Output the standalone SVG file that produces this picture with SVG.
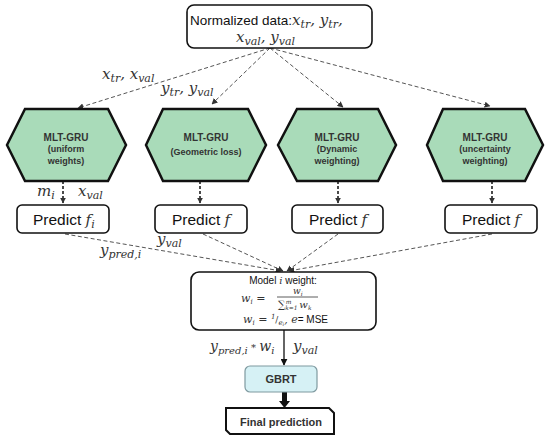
<svg xmlns="http://www.w3.org/2000/svg" width="550" height="443" viewBox="0 0 550 443">
<defs>
<marker id="ah" viewBox="0 0 10 10" refX="9" refY="5" markerWidth="6" markerHeight="6" orient="auto" markerUnits="userSpaceOnUse"><path d="M0,0 L10,5 L0,10 z" fill="#333"/></marker>
<marker id="ah2" viewBox="0 0 10 10" refX="9" refY="5" markerWidth="7" markerHeight="7" orient="auto" markerUnits="userSpaceOnUse"><path d="M0,0 L10,5 L0,10 z" fill="#111"/></marker>
<style>
.box{fill:#fff;stroke:#111;stroke-width:1.6}
.hex{fill:#a9dbb9;stroke:#111;stroke-width:2.5;stroke-linejoin:miter}
.thin{fill:none;stroke:#555;stroke-width:1;stroke-dasharray:4 2.5}
.mid{fill:none;stroke:#111;stroke-width:1.5;stroke-dasharray:3 2}
.sans{font-family:"Liberation Sans",Arial,sans-serif;fill:#111}
.hb{font-family:"Liberation Sans",Arial,sans-serif;font-weight:bold;fill:#333;text-anchor:middle}
.m{font-family:"DejaVu Serif","Liberation Serif",serif;font-style:italic;fill:#333}
.sub{font-size:11px}
</style>
</defs>
<rect width="550" height="443" fill="#fff"/>

<g id="connectors">
<path class="thin" d="M270,48 L78,108" marker-end="url(#ah)"/>
<path class="thin" d="M270,48 L212,104" marker-end="url(#ah)"/>
<path class="thin" d="M270,48 L343,107" marker-end="url(#ah)"/>
<path class="thin" d="M270,48 L490,106" marker-end="url(#ah)"/>
<path class="mid" d="M63,181 L63,203" marker-end="url(#ah)"/>
<path class="mid" d="M200,181 L200,203" marker-end="url(#ah)"/>
<path class="mid" d="M338,181 L338,203" marker-end="url(#ah)"/>
<path class="mid" d="M492,181 L492,203" marker-end="url(#ah)"/>
<path class="thin" d="M65,234 L281,271" marker-end="url(#ah)"/>
<path class="thin" d="M203,234 L283,271" marker-end="url(#ah)"/>
<path class="thin" d="M338,234 L287,271" marker-end="url(#ah)"/>
<path class="thin" d="M492,234 L289,271" marker-end="url(#ah)"/>
<path d="M284,330 L284,365" stroke="#111" stroke-width="1.3" fill="none" marker-end="url(#ah2)"/>
<path d="M282,392 L287,392 L287,401 L290,401 L284.5,408 L279,401 L282,401 z" fill="#111"/>
<text class="m" x="102" y="79" font-size="15">x<tspan class="sub" dy="3">tr</tspan><tspan dy="-3">, x</tspan><tspan class="sub" dy="3">val</tspan></text>
<text class="m" x="161" y="93" font-size="15">y<tspan class="sub" dy="3">tr</tspan><tspan dy="-3">, y</tspan><tspan class="sub" dy="3">val</tspan></text>
<text class="m" x="37" y="196" font-size="15">m<tspan class="sub" dy="3">i</tspan></text>
<text class="m" x="78" y="196" font-size="15">x<tspan class="sub" dy="3">val</tspan></text>
<text class="m" x="157" y="244" font-size="15">y<tspan class="sub" dy="3">val</tspan></text>
<text class="m" x="100" y="255" font-size="15">y<tspan class="sub" dy="3">pred,i</tspan></text>
<text class="m" x="210" y="351" font-size="14">y<tspan font-size="10" dy="3">pred,i</tspan><tspan dy="-3" font-size="10" style="font-style:normal"> * </tspan><tspan>w</tspan><tspan font-size="10" dy="3">i</tspan></text>
<text class="m" x="293" y="351" font-size="15">y<tspan class="sub" dy="3">val</tspan></text>
</g>

<g id="top">
<rect class="box" x="187" y="5" width="185" height="43" rx="7" stroke-width="1.8"/>
<text class="sans" x="190" y="25" font-size="13.5">Normalized data:<tspan class="m" font-size="15">x</tspan><tspan class="m sub" dy="3">tr</tspan><tspan class="m" font-size="15" dy="-3">, y</tspan><tspan class="m sub" dy="3">tr</tspan><tspan class="m" font-size="15" dy="-3">,</tspan></text>
<text class="m" x="236" y="42" font-size="15">x<tspan class="sub" dy="3">val</tspan><tspan dy="-3">, y</tspan><tspan class="sub" dy="3">val</tspan></text>
</g>

<g id="hex1">
<polygon class="hex" points="7,145 25,109 108,109 126,145 108,181 25,181"/>
<text class="hb" x="66" y="141" font-size="10">MLT-GRU</text>
<text class="hb" x="66" y="152" font-size="9">(uniform</text>
<text class="hb" x="66" y="164" font-size="9">weights)</text>
</g>
<g id="hex2">
<polygon class="hex" points="146,145 163,109 248,109 266,145 248,181 163,181"/>
<text class="hb" x="206" y="141" font-size="10">MLT-GRU</text>
<text class="hb" x="206" y="155" font-size="9">(Geometric loss)</text>
</g>
<g id="hex3">
<polygon class="hex" points="278,145 297,109 378,109 396,145 378,181 297,181"/>
<text class="hb" x="337" y="141" font-size="10">MLT-GRU</text>
<text class="hb" x="337" y="152" font-size="9">(Dynamic</text>
<text class="hb" x="337" y="164" font-size="9">weighting)</text>
</g>
<g id="hex4">
<polygon class="hex" points="427,145 443,109 525,109 543,145 525,181 443,181"/>
<text class="hb" x="485" y="141" font-size="10">MLT-GRU</text>
<text class="hb" x="485" y="152" font-size="9">(uncertainty</text>
<text class="hb" x="485" y="164" font-size="9">weighting)</text>
</g>

<g id="pred1">
<rect class="box" x="17" y="205" width="92" height="28" rx="5"/>
<text class="sans" x="33" y="225" font-size="15.5">Predict <tspan class="m" font-size="15">f</tspan><tspan class="m sub" dy="3">i</tspan></text>
</g>
<g id="pred2">
<rect class="box" x="155" y="205" width="92" height="28" rx="5"/>
<text class="sans" x="172" y="225" font-size="15.5">Predict <tspan class="m" font-size="15">f</tspan></text>
</g>
<g id="pred3">
<rect class="box" x="292" y="205" width="91" height="28" rx="5"/>
<text class="sans" x="309" y="225" font-size="15.5">Predict <tspan class="m" font-size="15">f</tspan></text>
</g>
<g id="pred4">
<rect class="box" x="445" y="205" width="92" height="28" rx="5"/>
<text class="sans" x="462" y="225" font-size="15.5">Predict <tspan class="m" font-size="15">f</tspan></text>
</g>

<g id="model">
<rect class="box" x="191" y="272" width="185" height="58" rx="8" stroke-width="1.8"/>
<text class="sans" x="283" y="284" font-size="10" text-anchor="middle" fill="#333">Model <tspan class="m" font-size="10">i</tspan> weight:</text>
<text class="m" x="241" y="302" font-size="11">w<tspan font-size="7" dy="2">i</tspan><tspan dy="-2" style="font-style:normal"> = </tspan></text>
<text class="m" x="293" y="294" font-size="9">w<tspan font-size="6" dy="1.5">i</tspan></text>
<line x1="277" y1="297" x2="318" y2="297" stroke="#333" stroke-width="0.8"/>
<text class="m" x="278" y="308" font-size="10"><tspan style="font-style:normal">∑</tspan><tspan font-size="6" dy="1.5">k=1</tspan><tspan font-size="6" dx="-12" dy="-6">m</tspan><tspan dx="8" dy="4.5">w</tspan><tspan font-size="6" dy="1.5">k</tspan></text>
<text class="m" x="243" y="323" font-size="11">w<tspan font-size="7" dy="2">i</tspan><tspan dy="-2" style="font-style:normal"> = </tspan><tspan font-size="7" dy="-4">1</tspan><tspan font-size="9" dy="4" style="font-style:normal">/</tspan><tspan font-size="7" dy="2">e</tspan><tspan font-size="5" dy="1">i</tspan><tspan dy="-3">,  e</tspan><tspan class="sans" font-size="10" style="font-style:normal">= MSE</tspan></text>
</g>

<g id="gbrt">
<rect x="245" y="366" width="72" height="26" rx="5" fill="#d6f1f5" stroke="#7f9aa0" stroke-width="1.2"/>
<text class="hb" x="281" y="383" font-size="11">GBRT</text>
</g>

<g id="final">
<path d="M226,408 L329,408 L334,413 L334,434 L230,434 L226,430 z" fill="#fff" stroke="#111" stroke-width="2"/>
<text class="hb" x="281" y="426" font-size="11" fill="#111">Final prediction</text>
</g>
</svg>
